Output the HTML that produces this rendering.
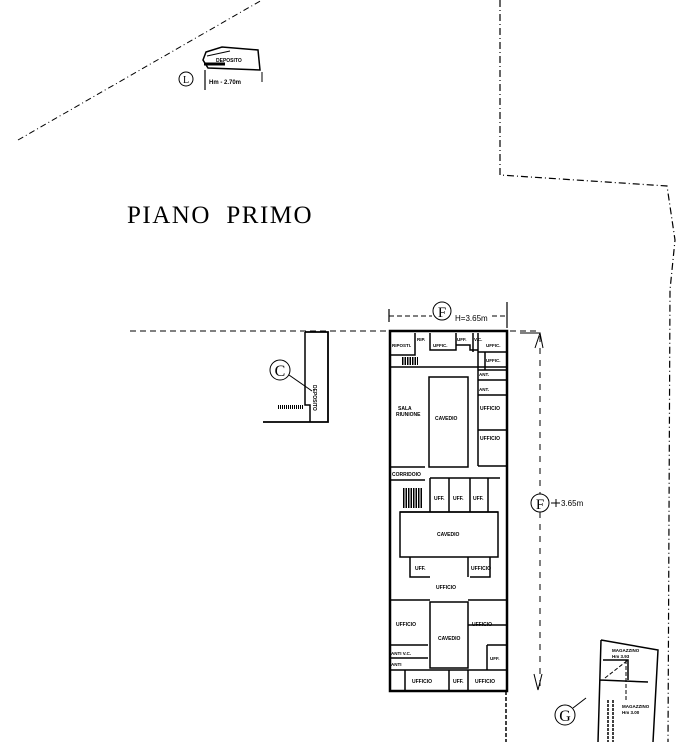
<!DOCTYPE html>
<html><head><meta charset="utf-8"><style>
html,body{margin:0;padding:0;background:#fff;width:690px;height:742px;overflow:hidden}
svg{display:block}
text{font-family:"Liberation Sans",sans-serif;font-weight:bold;fill:#000}
</style></head><body>
<svg width="690" height="742" viewBox="0 0 690 742" xmlns="http://www.w3.org/2000/svg">
<g fill="none" stroke="#000">
<path d="M18,140 L262,0" stroke-width="1" stroke-dasharray="6,3,1,3"/>
<path d="M500,0 L500,175 L667,186 L675,240 L670,290 L668,742" stroke-width="1.2" stroke-dasharray="7,3,1,3"/>
<path d="M130,331 L540,331" stroke-width="1" stroke-dasharray="6,4"/>
<path d="M506,691 L506,742" stroke-width="1.5" stroke-dasharray="4,2"/>
<path d="M203,60 L206,52 L222,47 L258,50 L260,70 L208,68 Z" stroke-width="1.5"/>
<path d="M207,56 L230,51" stroke-width="1"/>
<path d="M204,64 L225,64" stroke-width="3"/>
<path d="M205,70 L205,90" stroke-width="1.2"/>
<path d="M262,72 L262,82" stroke-width="1"/>
<circle cx="186" cy="79" r="7" stroke-width="1"/>
<path d="M305,332 L328,332 L328,422 L263,422" stroke-width="1.8"/>
<path d="M305,332 L305,405 L310,405 L310,422" stroke-width="1.5"/>
<path d="M278,407 L303,407" stroke-width="4" stroke-dasharray="1,1"/>
<circle cx="280" cy="370" r="10" stroke-width="1"/>
<path d="M289,375 L312,391" stroke-width="1"/>
<path d="M389,316 L432,316" stroke-width="1" stroke-dasharray="5,3"/>
<path d="M389,309 L389,322 M507,302 L507,328" stroke-width="1.2"/>
<path d="M492,316 L507,316" stroke-width="1" stroke-dasharray="5,3"/>
<circle cx="442" cy="311" r="9" stroke-width="1"/>
<path d="M540,336 L540,494 M540,512 L540,690" stroke-width="1" stroke-dasharray="6,6"/>
<path d="M520,333 L540,333 L535,348 M540,333 L543,348" stroke-width="1"/>
<path d="M534,674 L538,690 L542,674" stroke-width="1"/>
<circle cx="540" cy="503" r="9" stroke-width="1"/>
<path d="M551,503 L560,503 M556,499 L556,507" stroke-width="1"/>
<rect x="390" y="331" width="117" height="360" stroke-width="2.5"/>
<g stroke-width="1.5">
<path d="M390,355 L415,355 L415,344 M415,333 L415,355 M430,333 L430,350 L456,350 L456,345 L470,345 L470,350 L478,350 M456,333 L456,345 M473,333 L473,352 M478,333 L478,370 M478,352 L507,352 M485,352 L485,370"/>
<path d="M390,367 L507,367 M478,370 L507,370 M478,380 L507,380 M478,395 L507,395 M478,430 L507,430 M478,466 L507,466 M478,370 L478,466"/>
<rect x="429" y="377" width="39" height="90"/>
<path d="M390,467 L425,467 M390,480 L425,480 M430,478 L500,478 M430,478 L430,512 M449,478 L449,512 M470,478 L470,512 M488,478 L488,512 M400,512 L498,512"/>
<rect x="400" y="512" width="98" height="45"/>
<path d="M410,557 L410,577 L430,577 M468,557 L468,577 M490,557 L490,577 L470,577"/>
<path d="M390,600 L430,600 M468,600 L507,600"/>
<rect x="430" y="602" width="38" height="66"/>
<path d="M390,645 L428,645 M390,658 L428,658 M390,670 L507,670 M405,670 L405,691 M449,670 L449,691 M468,670 L468,691 M487,645 L507,645 M487,645 L487,670 M468,625 L507,625"/>
</g>
<path d="M403,498 L422,498" stroke-width="20" stroke-dasharray="1.5,1"/>
<path d="M402,361 L418,361" stroke-width="8" stroke-dasharray="1.5,1"/>
<path d="M601,640 L658,650 L653,742 M601,640 L598,742 M603,660 L628,660 L628,680 M600,680 L648,682" stroke-width="1.5"/>
<path d="M605,678 L628,660 M626,660 L626,700" stroke-width="1" stroke-dasharray="4,2"/>
<path d="M608,700 L608,742 M613,700 L613,742" stroke-width="1.5" stroke-dasharray="3,1"/>
<circle cx="565" cy="715" r="10" stroke-width="1"/>
<path d="M573,708 L586,698" stroke-width="1"/>
</g>
<g font-size="5">
<text x="216" y="62">DEPOSITO</text>
<text x="209" y="84" font-size="6">Hm - 2.70m</text>
<text x="313" y="385" transform="rotate(90 313 385)" font-size="5">DEPOSITO</text>
<text x="392" y="347" font-size="4.5">RIPOSTI.</text>
<text x="417" y="341" font-size="4.5">RIP.</text>
<text x="433" y="347" font-size="4.5">UFFIC.</text>
<text x="457" y="341" font-size="4.5">UFF.</text>
<text x="474" y="341" font-size="4.5">V.C.</text>
<text x="486" y="347" font-size="4.5">UFFIC.</text>
<text x="486" y="362" font-size="4.5">UFFIC.</text>
<text x="479" y="376" font-size="4.5">ANT.</text>
<text x="479" y="391" font-size="4.5">ANT.</text>
<text x="398" y="410">SALA</text>
<text x="396" y="416">RIUNIONE</text>
<text x="435" y="420">CAVEDIO</text>
<text x="480" y="410">UFFICIO</text>
<text x="480" y="440">UFFICIO</text>
<text x="392" y="476">CORRIDOIO</text>
<text x="434" y="500">UFF.</text>
<text x="453" y="500">UFF.</text>
<text x="473" y="500">UFF.</text>
<text x="437" y="536">CAVEDIO</text>
<text x="415" y="570">UFF.</text>
<text x="471" y="570">UFFICIO</text>
<text x="436" y="589">UFFICIO</text>
<text x="396" y="626">UFFICIO</text>
<text x="438" y="640">CAVEDIO</text>
<text x="472" y="626">UFFICIO</text>
<text x="391" y="655" font-size="4.5">ANTI V.C.</text>
<text x="391" y="666" font-size="4.5">ANTI</text>
<text x="490" y="660" font-size="4.5">UFF.</text>
<text x="412" y="683">UFFICIO</text>
<text x="453" y="683">UFF.</text>
<text x="475" y="683">UFFICIO</text>
<text x="612" y="652" font-size="4.5">MAGAZZINO</text>
<text x="612" y="658" font-size="4.5">Hm 3.93</text>
<text x="622" y="708" font-size="4.5">MAGAZZINO</text>
<text x="622" y="714" font-size="4.5">Hm 3.00</text>
</g>
<text x="186" y="83" font-size="10" text-anchor="middle" style="font-weight:normal;font-family:'Liberation Serif',serif">L</text>
<text x="280" y="376" font-size="16" text-anchor="middle" style="font-weight:normal;font-family:'Liberation Serif',serif">C</text>
<text x="442" y="317" font-size="15" text-anchor="middle" style="font-weight:normal;font-family:'Liberation Serif',serif">F</text>
<text x="540" y="509" font-size="15" text-anchor="middle" style="font-weight:normal;font-family:'Liberation Serif',serif">F</text>
<text x="565" y="721" font-size="16" text-anchor="middle" style="font-weight:normal;font-family:'Liberation Serif',serif">G</text>
<text x="455" y="321" font-size="8" style="font-weight:normal">H=3.65m</text>
<text x="561" y="506" font-size="8" style="font-weight:normal">3.65m</text>
<text x="127" y="223" font-size="25" style="font-weight:normal;font-family:'Liberation Serif',serif;letter-spacing:1.5px;white-space:pre">PIANO  PRIMO</text>
</svg>
</body></html>
